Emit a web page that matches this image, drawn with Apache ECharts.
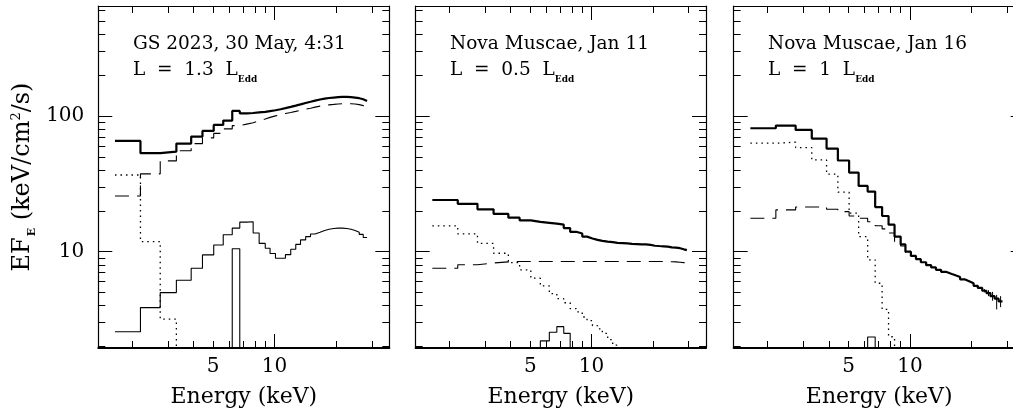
<!DOCTYPE html>
<html>
<head>
<meta charset="utf-8">
<script src="https://cdn.jsdelivr.net/npm/echarts@6/dist/echarts.min.js"></script>
<style>
  html, body { margin: 0; padding: 0; background: #fff; }
  #main { width: 1013px; height: 414px; }
</style>
</head>
<body>
<div id="main"></div>
<script>
// energy bin edges (keV), shared by the three spectra
const edges = [1.65, 2.2, 2.75, 3.3, 3.9, 4.43, 5.03, 5.6, 6.2, 6.75,
  7.3, 7.85, 8.4, 9.0, 9.5, 10.1, 10.7, 11.3, 12.0, 12.7,
  13.4, 14.2, 15.0, 15.8, 16.7, 17.6, 18.5, 19.5, 20.5, 21.5,
  22.6, 23.7, 24.8, 26.0, 27.2, 28.4, 29.4]

// GS 2023, 30 May
const gsTotal = [65.4, 53.1, 54.6, 62.5, 70.4, 77.5, 85.8, 92.3, 108.8, 104.5,
  105, 106, 107, 108.5, 110, 112, 114, 116.5, 119, 121.5,
  124.5, 127, 129.5, 132, 134, 135.5, 136.5, 137.3, 138, 138,
  137.5, 136.5, 135, 132.5, 128.5]
const gsDashed = [25.7, 37.4, 46.6, 55.3, 62.5, 68.9, 74.3, 80.2, 84.8, 87,
  89, 92, 95, 97.5, 100, 102, 104, 106, 108, 110,
  112, 114, 116, 118, 119.5, 120.5, 121.5, 122.5, 123, 123,
  123, 122.5, 121, 119, 116]
const gsRefl = [2.57, 3.87, 4.99, 6.16, 7.54, 9.46, 11.2, 13.3, 14.9, 16.5,
  16.6, 13.7, 11.5, 10.6, 9.7, 8.94, 8.94, 9.5, 10.4, 11.3,
  12.2, 12.9, 13.5, 13.9, 14.3, 14.6, 14.8, 14.9, 14.9, 14.8,
  14.6, 14.3, 13.9, 13.4, 12.7]
const gsDotted = [36.7, 11.85, 3.18, 0.5]
const gsLine = [10.5] // bin 8

// Nova Muscae, Jan 11
const jan11Total = [24.0, 22.5, 20.5, 18.95, 17.8, 17.0, 16.55, 16.3, 16.1, 15.8,
  14.9, 14.0, 13.6, 12.9, 12.5, 12.2, 12.0, 11.85, 11.75, 11.6,
  11.55, 11.5, 11.4, 11.35, 11.3, 11.3, 11.2, 11.05, 11.0, 10.95,
  10.9, 10.75, 10.7, 10.6, 10.4, 10.25]
const jan11Dashed = [7.55, 8.0, 8.25, 8.4, 8.45, 8.45, 8.45, 8.45, 8.45, 8.45,
  8.45, 8.45, 8.45, 8.45, 8.45, 8.45, 8.45, 8.45, 8.45, 8.45,
  8.45, 8.45, 8.45, 8.45, 8.45, 8.45, 8.45, 8.45, 8.45, 8.45,
  8.45, 8.42, 8.4, 8.35, 8.3, 8.25]
const jan11Dotted = [15.47, 13.5, 11.5, 9.73, 8.3, 7.33, 6.37, 5.59, 4.9, 4.5,
  4.2, 3.8, 3.6, 3.3, 3.1, 2.85, 2.7, 2.5, 2.25, 2.05, 1.85, 1.7]
const jan11Line = [2.2, 2.55, 2.8, 2.5] // bins 7-10

// Nova Muscae, Jan 16
const jan16Total = [81.1, 84.9, 78.8, 68.1, 57.4, 46.9, 38.2, 30.5, 27.7, 21.3,
  18.3, 15.8, 12.9, 11.3, 10.0, 9.3, 8.8, 8.35, 7.95, 7.65,
  7.35, 7.1, 6.9, 6.7, 6.5, 6.25, 6.05, 5.85, 5.6, 5.4,
  5.15, 4.95, 4.7, 4.5, 4.3]
const jan16Dotted = [62.9, 64.0, 58.4, 47.4, 37.2, 27.4, 19.2, 12.9, 8.69, 5.85,
  3.76, 2.36, 1.0]
const jan16Dashed = [17.6, 20.3, 21.3, 21.3, 20.5, 19.7, 18.3, 17.6, 16.6, 15.5,
  14.7, 13.7, 11.6, 11.0, 9.86]
const jan16Line = [2.35] // bin 8
const errE = [23.15, 24.25, 25.4, 26.6, 27.8]
const errLo = [5.0, 4.7, 4.35, 3.75, 3.9]
const errHi = [5.3, 5.2, 5.05, 4.8, 4.7]

// axes
const xMinorTicks = [2, 3, 4, 5, 6, 7, 8, 9, 20, 30]
const xMajorTicks = [10]
const xTickLabels = [5, 10]
const yMinorTicks = [2, 3, 4, 5, 6, 7, 8, 9, 20, 30, 40, 50, 60, 70, 80, 90, 200, 300, 400, 500, 600]
const yMajorTicks = [10, 100]
const yTickLabels = [10, 100]

const X_MIN = 1.367, X_MAX = 36.5
const Y_MIN = 1.95, Y_MAX = 645
const FLOOR = 1 // below the y minimum, closes line boxes
const FONT = '"DejaVu Serif", "Liberation Serif", serif'

const panels = [
  { left: 98.3, width: 291, title: 'GS 2023, 30 May, 4:31', lum: '1.3', tx: 133 },
  { left: 415.7, width: 290.3, title: 'Nova Muscae, Jan 11', lum: '0.5', tx: 450 },
  { left: 733.7, width: 291, title: 'Nova Muscae, Jan 16', lum: '1', tx: 768 }
]

function steps(vals, start, floorEnds) {
  const pts = []
  if (floorEnds) pts.push([edges[start], FLOOR])
  vals.forEach(function(v, i) { pts.push([edges[start + i], v]) })
  const last = edges[start + vals.length]
  pts.push([last, vals[vals.length - 1]])
  if (floorEnds) pts.push([last, FLOOR])
  return pts
}

const styles = {
  thick: { color: '#000', width: 2.2 },
  thin: { color: '#000', width: 1.1 },
  dash: { color: '#000', width: 1.1, type: [14, 8] },
  dot: { color: '#000', width: 1.3, type: [1.5, 4] }
}

function stepSeries(g, vals, start, kind, floorEnds, z) {
  return {
    type: 'line',
    xAxisIndex: 4 * g,
    yAxisIndex: 4 * g,
    step: 'end',
    symbol: 'none',
    silent: true,
    clip: true,
    z: z || 2,
    lineStyle: styles[kind],
    data: steps(vals, start, floorEnds)
  }
}

function tickAxis(g, isX, position, values, len, lineWidth, extra) {
  return Object.assign({
    type: 'log',
    gridIndex: g,
    position: position,
    min: isX ? X_MIN : Y_MIN,
    max: isX ? X_MAX : Y_MAX,
    splitLine: { show: false },
    axisLine: { show: lineWidth > 0, onZero: false, lineStyle: { color: '#000', width: lineWidth || 1 } },
    axisTick: { show: true, inside: true, length: len, customValues: values, lineStyle: { color: '#000', width: 1 } },
    axisLabel: { show: false }
  }, extra || {})
}

const xAxes = []
const yAxes = []
const grids = []
panels.forEach(function(p, g) {
  grids.push({ left: p.left, top: 6, width: p.width, height: 342, containLabel: false, outerBoundsMode: 'none' })
  xAxes.push(tickAxis(g, true, 'bottom', xMinorTicks, 7, 2, {
    axisLabel: { show: true, customValues: xTickLabels, margin: 9, color: '#000', fontFamily: FONT, fontSize: 20 },
    name: 'Energy (keV)',
    nameLocation: 'middle',
    nameGap: 38,
    nameTextStyle: { color: '#000', fontFamily: FONT, fontSize: 22 }
  }))
  xAxes.push(tickAxis(g, true, 'bottom', xMajorTicks, 14, 0))
  xAxes.push(tickAxis(g, true, 'top', xMinorTicks, 7, 1.2))
  xAxes.push(tickAxis(g, true, 'top', xMajorTicks, 14, 0))
  const leftExtra = g === 0 ? {
    axisLabel: { show: true, customValues: yTickLabels, margin: 14, color: '#000', fontFamily: FONT, fontSize: 20 },
    name: '{m|EF}{s|E}{m| (keV/cm}{p|2}{m|/s)}',
    nameLocation: 'middle',
    nameGap: 63,
    nameTextStyle: {
      color: '#000',
      rich: {
        m: { fontFamily: FONT, fontSize: 24, lineHeight: 25, verticalAlign: 'top', color: '#000' },
        s: { fontFamily: FONT, fontSize: 11, fontWeight: 'bold', lineHeight: 11, padding: [16, 0, 0, 1], verticalAlign: 'top', color: '#000' },
        p: { fontFamily: FONT, fontSize: 13, lineHeight: 13, verticalAlign: 'top', color: '#000' }
      }
    }
  } : null
  yAxes.push(tickAxis(g, false, 'left', yMinorTicks, 7, 1.2, leftExtra))
  yAxes.push(tickAxis(g, false, 'left', yMajorTicks, 14, 0))
  yAxes.push(tickAxis(g, false, 'right', yMinorTicks, 7, 1.2))
  yAxes.push(tickAxis(g, false, 'right', yMajorTicks, 14, 0))
})

const series = [
  stepSeries(0, gsDashed, 0, 'dash'),
  stepSeries(0, gsDotted, 0, 'dot'),
  stepSeries(0, gsRefl, 0, 'thin'),
  stepSeries(0, gsLine, 8, 'thin', true),
  stepSeries(0, gsTotal, 0, 'thick', false, 3),

  stepSeries(1, jan11Dashed, 0, 'dash'),
  stepSeries(1, jan11Dotted, 0, 'dot'),
  stepSeries(1, jan11Line, 7, 'thin', true),
  stepSeries(1, jan11Total, 0, 'thick', false, 3),

  stepSeries(2, jan16Dashed, 0, 'dash'),
  stepSeries(2, jan16Dotted, 0, 'dot'),
  stepSeries(2, jan16Line, 8, 'thin', true),
  stepSeries(2, jan16Total, 0, 'thick', false, 3),
  {
    type: 'custom',
    xAxisIndex: 8,
    yAxisIndex: 8,
    silent: true,
    z: 3,
    data: errE.map(function(e, i) { return [e, errLo[i], errHi[i]] }),
    encode: { x: 0, y: [1, 2] },
    renderItem: function(params, api) {
      const lo = api.coord([api.value(0), api.value(1)])
      const hi = api.coord([api.value(0), api.value(2)])
      return {
        type: 'line',
        shape: { x1: lo[0], y1: lo[1], x2: hi[0], y2: hi[1] },
        style: { stroke: '#000', lineWidth: 1 }
      }
    }
  }
]

const graphics = []
panels.forEach(function(p) {
  graphics.push({
    type: 'text', x: p.tx, y: 44, silent: true,
    style: { text: p.title, font: '18.5px ' + FONT, fill: '#000', verticalAlign: 'middle' }
  })
  graphics.push({
    type: 'text', x: p.tx, y: 61, silent: true,
    style: {
      text: '{m|L  =  ' + p.lum + '  L}{s|Edd}',
      verticalAlign: 'top',
      fill: '#000',
      rich: {
        m: { fontFamily: FONT, fontSize: 18.5, lineHeight: 20, verticalAlign: 'top', fill: '#000' },
        s: { fontFamily: FONT, fontSize: 9, fontWeight: 'bold', lineHeight: 9, padding: [14, 0, 0, 0], verticalAlign: 'top', fill: '#000' }
      }
    }
  })
})

const chart = echarts.init(document.getElementById('main'), null, { renderer: 'canvas' })
chart.setOption({
  animation: false,
  backgroundColor: '#fff',
  grid: grids,
  xAxis: xAxes,
  yAxis: yAxes,
  series: series,
  graphic: graphics
})
</script>
</body>
</html>
